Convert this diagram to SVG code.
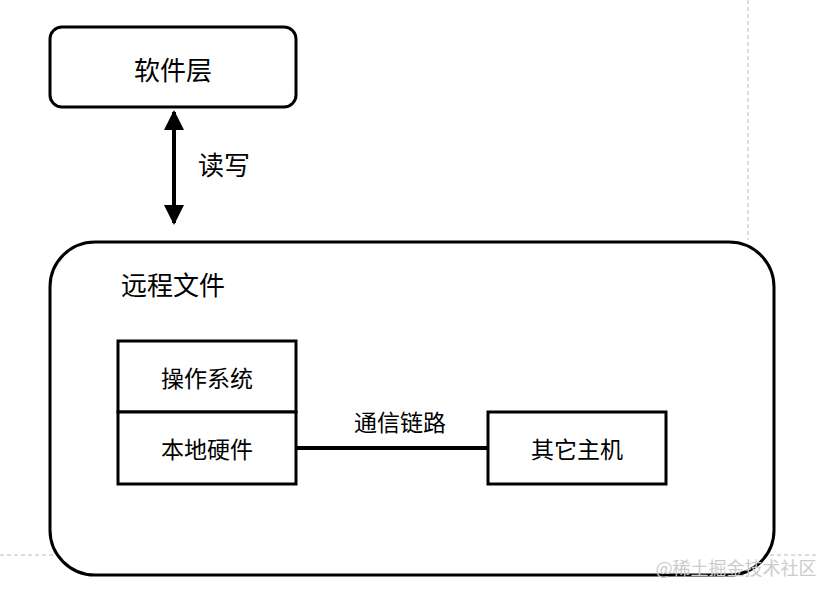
<svg xmlns="http://www.w3.org/2000/svg" width="817" height="591" viewBox="0 0 817 591">
<style>
.b{fill:#fff;stroke:#000;stroke-width:3}
.t{font-family:"Noto Sans CJK SC",sans-serif;font-size:26px;fill:#000;text-anchor:middle;dominant-baseline:central}
.s{font-size:23px}
.d{stroke:#bbb;stroke-width:1;stroke-dasharray:4 3;fill:none}
</style>
<defs><marker id="a" viewBox="0 0 10 10" refX="9" refY="5" markerWidth="5.5" markerHeight="5" orient="auto-start-reverse" markerUnits="strokeWidth"><path d="M0,0L10,5L0,10z" fill="#000"/></marker></defs>
<path class="d" d="M748,0V240M0,555H817"/>
<g id="software"><rect class="b" x="50" y="27" width="246" height="80" rx="12"/><text class="t" x="173" y="68">软件层</text></g>
<g id="remote"><rect class="b" x="50" y="242" width="724" height="333" rx="45"/><text class="t" x="173" y="283">远程文件</text></g>
<g id="os"><rect class="b" x="118" y="341" width="178" height="71"/><text class="t s" x="207" y="377">操作系统</text></g>
<g id="hw"><rect class="b" x="118" y="412" width="178" height="72"/><text class="t s" x="207" y="448">本地硬件</text></g>
<g id="other"><rect class="b" x="488" y="412" width="178" height="72"/><text class="t s" x="577" y="448">其它主机</text></g>
<g id="connectors">
<line x1="174" y1="112" x2="174" y2="223" stroke="#000" stroke-width="4" marker-start="url(#a)" marker-end="url(#a)"/>
<text class="t" x="224" y="163">读写</text>
<line x1="296" y1="448" x2="488" y2="448" stroke="#000" stroke-width="4"/>
<text class="t s" x="400" y="421">通信链路</text>
</g>
<text x="736" y="575" font-family="Noto Sans CJK SC,sans-serif" font-size="18" fill="#ccc" text-anchor="middle">@稀土掘金技术社区</text>
</svg>
